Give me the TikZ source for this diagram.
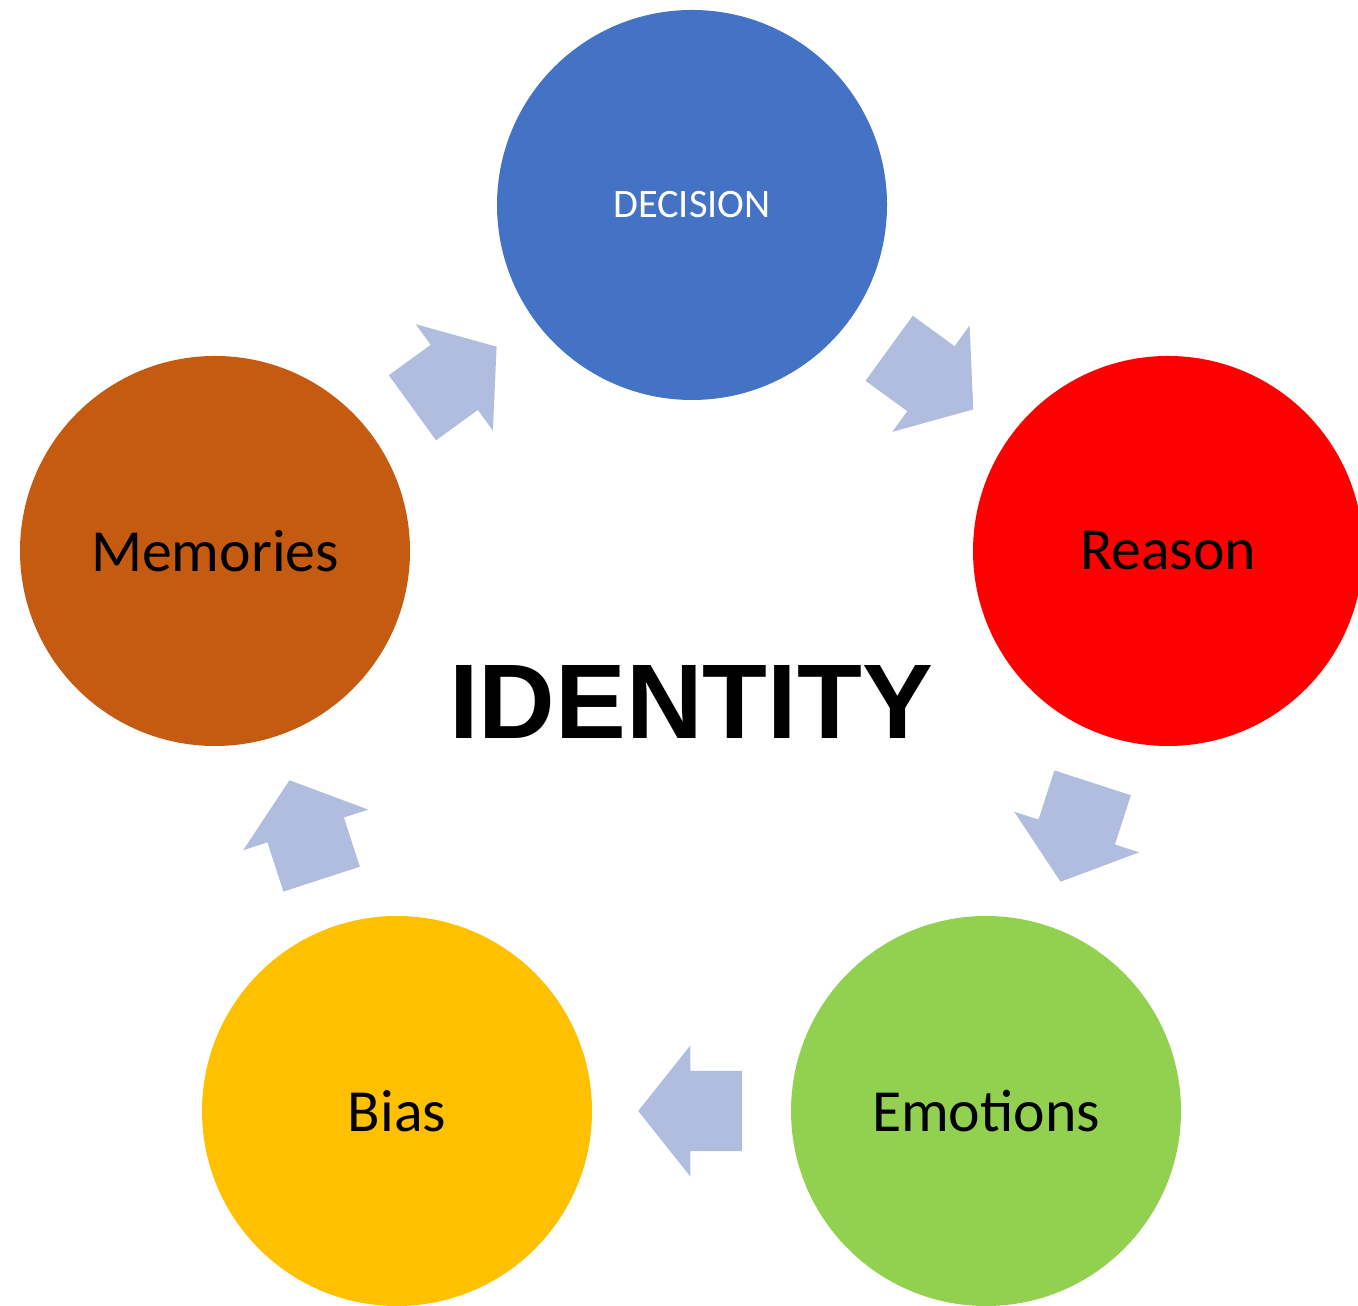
\documentclass[tikz,border=0pt]{standalone}
\usepackage{fontspec}
\setmainfont{Carlito}
\newfontfamily\headfont{Liberation Sans}
\usetikzlibrary{positioning,shapes.arrows}
\definecolor{decblue}{RGB}{68,114,196}
\definecolor{reasonred}{RGB}{255,0,0}
\definecolor{emogreen}{RGB}{146,208,80}
\definecolor{biasgold}{RGB}{255,192,0}
\definecolor{memorange}{RGB}{197,90,17}
\definecolor{arrowblue}{RGB}{176,189,222}
\tikzset{
  bubble/.style={circle,minimum size=3.9cm,inner sep=0pt,draw=none,
    font=\fontsize{17}{20}\selectfont},
  blockarrow/.style={single arrow,fill=arrowblue,draw=none,
    inner xsep=0pt,inner ysep=0.395cm,
    minimum height=1.04cm,
    single arrow head extend=0.255cm,single arrow tip angle=103,
    sloped,allow upside down,anchor=tail,pos=.24}
}

\begin{document}
\begin{tikzpicture}
\useasboundingbox (0,0) rectangle (13.58,13.06);
\node[bubble,fill=decblue,text=white,font=\fontsize{11.5}{14}\selectfont] (D) at (6.92,11.01) {DECISION};
\node[bubble,fill=reasonred] (R) at (11.68,7.55) {Reason};
\node[bubble,fill=emogreen] (E) at (9.86,1.95) {Emotions};
\node[bubble,fill=biasgold] (B) at (3.97,1.95) {Bias};
\node[bubble,fill=memorange] (M) at (2.15,7.55) {Memories};
\node[font=\headfont\bfseries\fontsize{30.2}{36}\selectfont] (I) at (6.91,6.04) {IDENTITY};
\path (M) -- node[blockarrow] {} (D)
      (D) -- node[blockarrow] {} (R)
      (R) -- node[blockarrow] {} (E)
      (E) -- node[blockarrow] {} (B)
      (B) -- node[blockarrow] {} (M);
\end{tikzpicture}
\end{document}
